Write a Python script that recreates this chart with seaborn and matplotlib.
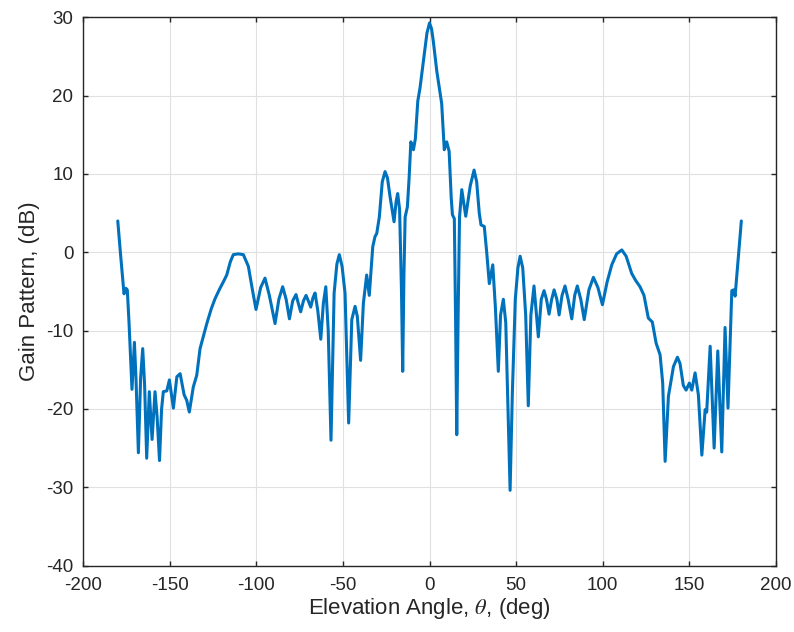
import numpy as np
import pandas as pd
import matplotlib
matplotlib.use("Agg")
import matplotlib.pyplot as plt
import seaborn as sns

# Gain pattern (deg, dB)
theta = [
    -180, -178.5, -176.4, -175.3, -174.5, -173.5, -171.8, -170.4, -169.5, -168.1,
    -166.8, -165.6, -164.5, -163.3, -161.8, -160.2, -158.5, -157.3, -155.9, -154.7,
    -153.7, -151.7, -150.2, -147.9, -145.9, -144.0, -141.7, -140.2, -138.7, -136.4,
    -134.4, -132.5, -128.6, -126.0, -123.8, -121.0, -119.1, -117.1, -115.0, -113.3,
    -110.5, -107.5, -104.6, -102.5, -100.2, -97.5, -95.0, -92.5, -89.2, -87.0,
    -84.8, -82.8, -80.9, -79.0, -77.1, -75.8, -74.4, -72.8, -71.3, -70.0,
    -68.6, -67.3, -66.1, -64.5, -62.8, -61.3, -59.9, -58.5, -56.9, -55.1,
    -53.5, -52.1, -50.5, -48.8, -46.7, -44.9, -43.0, -41.7, -39.8, -38.2,
    -36.3, -34.8, -32.8, -31.5, -30.5, -29.0, -27.3, -25.7, -24.3, -22.8,
    -20.5, -19.3, -18.4, -17.3, -16.2, -15.5, -14.8, -14.1, -12.8, -11.8,
    -10.8, -10.0, -9.3, -8.2, -6.8, -5.5, -3.6, -1.5, 0.0, 1.2,
    2.2, 4.2, 5.5, 7.0, 8.5, 9.9, 11.3, 12.5, 13.2, 14.3,
    15.0, 15.7, 16.5, 17.3, 18.6, 20.9, 23.5, 25.7, 27.2, 28.7,
    29.7, 31.6, 33.0, 34.5, 36.5, 38.0, 39.7, 41.0, 42.6, 44.0,
    45.5, 46.5, 47.8, 49.5, 51.0, 52.3, 53.8, 55.5, 57.0, 58.5,
    60.3, 62.8, 64.5, 66.1, 67.5, 69.0, 70.5, 71.9, 73.5, 74.8,
    76.5, 78.2, 80.0, 82.1, 83.8, 85.3, 87.3, 89.3, 92.0, 94.6,
    97.2, 99.8, 102.5, 105.2, 108.0, 111.0, 113.5, 116.7, 119.0, 121.5,
    123.8, 126.3, 128.6, 130.8, 133.1, 134.6, 136.0, 137.9, 140.8, 143.1,
    144.6, 146.5, 148.1, 150.0, 151.4, 153.3, 155.2, 157.2, 159.1, 160.0,
    162.0, 164.3, 166.4, 168.7, 170.6, 172.3, 174.5, 175.5, 176.4, 180.0,
]
gain_db = [
    4.0, 0.0, -5.3, -4.6, -4.8, -9.0, -17.5, -11.5, -16.0, -25.6,
    -16.0, -12.3, -17.0, -26.3, -17.8, -23.9, -17.8, -21.0, -26.6, -20.0,
    -17.8, -17.7, -16.3, -19.9, -15.9, -15.5, -18.2, -18.9, -20.4, -17.2,
    -15.7, -12.3, -9.1, -7.2, -5.9, -4.6, -3.8, -2.9, -1.2, -0.3,
    -0.2, -0.3, -1.8, -4.5, -7.3, -4.5, -3.3, -5.5, -9.1, -6.0,
    -4.4, -6.0, -8.5, -6.2, -5.4, -6.5, -7.6, -6.2, -5.5, -6.2,
    -7.0, -5.8, -5.2, -7.5, -11.1, -6.5, -4.4, -10.0, -24.0, -5.2,
    -1.5, -0.3, -1.8, -5.2, -21.8, -8.6, -6.9, -8.2, -13.8, -6.5,
    -2.9, -5.5, 0.7, 2.0, 2.4, 4.5, 9.0, 10.3, 9.5, 7.1,
    3.9, 6.5, 7.5, 5.5, -5.0, -15.2, -3.0, 4.5, 5.8, 9.5,
    14.1, 13.6, 13.1, 14.5, 19.3, 21.0, 24.3, 28.0, 29.3, 28.5,
    26.9, 23.1, 21.2, 19.0, 13.1, 14.1, 12.9, 7.0, 4.8, 4.3,
    -8.0, -23.3, -8.0, 4.5, 8.0, 4.6, 8.5, 10.5, 9.0, 5.0,
    3.5, 3.3, 0.0, -4.0, -1.6, -7.0, -15.2, -8.0, -6.0, -9.0,
    -22.0, -30.4, -18.0, -6.0, -2.0, -0.5, -2.0, -8.0, -19.6, -8.0,
    -4.3, -10.8, -6.0, -4.9, -6.0, -7.9, -6.0, -4.8, -6.0, -8.0,
    -5.5, -4.3, -6.0, -8.5, -5.5, -4.3, -6.0, -8.6, -4.8, -3.2,
    -4.5, -6.7, -3.8, -1.6, -0.2, 0.3, -0.5, -2.7, -3.6, -4.4,
    -5.5, -8.4, -8.9, -11.6, -13.1, -16.7, -26.7, -18.4, -14.6, -13.4,
    -14.2, -17.0, -17.6, -16.7, -17.6, -15.4, -18.2, -25.9, -20.1, -20.4,
    -12.0, -25.0, -12.6, -25.5, -9.6, -19.9, -4.9, -4.8, -5.6, 4.0,
]
x_ticks = [-200, -150, -100, -50, 0, 50, 100, 150, 200]
y_ticks = [-40, -30, -20, -10, 0, 10, 20, 30]

df = pd.DataFrame({"theta": theta, "gain": gain_db})

sns.set_style("whitegrid")
plt.rcParams["font.family"] = ["Liberation Sans", "DejaVu Sans"]
plt.rcParams["mathtext.fontset"] = "stix"

fig = plt.figure(figsize=(7.94, 6.32), dpi=100)
ax = fig.add_axes([0.1047, 0.1052, 0.8726, 0.8673])

sns.lineplot(data=df, x="theta", y="gain", ax=ax, color="#0072BD",
             linewidth=2.2, estimator=None, sort=False)

ax.set_xlim(-200, 200)
ax.set_ylim(-40, 30)
ax.set_xticks(x_ticks)
ax.set_yticks(y_ticks)
ax.set_xticklabels([str(t) for t in x_ticks])
ax.set_yticklabels([str(t) for t in y_ticks])

ax.grid(True, color="#e0e0e0", linewidth=0.8)
for s in ax.spines.values():
    s.set_color("#262626")
    s.set_linewidth(1.0)
    s.set_visible(True)
ax.tick_params(direction="in", length=3.5, width=1.0, color="#262626",
               labelcolor="#262626", labelsize=13.5, top=True, right=True,
               bottom=True, left=True)
ax.tick_params(axis="x", pad=8)
ax.tick_params(axis="y", pad=7)

ax.set_xlabel(r"Elevation Angle, $\it{\theta}$, (deg)", fontsize=16, color="#262626",
              labelpad=2)
ax.set_ylabel("Gain Pattern, (dB)", fontsize=16, color="#262626", labelpad=4)

fig.savefig("out.png", dpi=100, facecolor="white")
